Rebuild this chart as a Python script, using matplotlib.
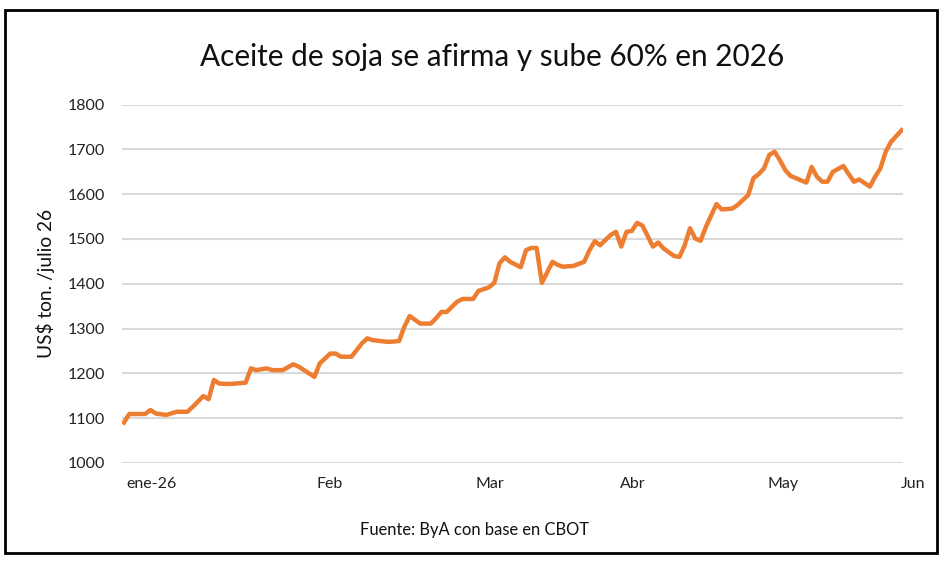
import matplotlib.pyplot as plt
from matplotlib.patches import Rectangle

#data (dias = days from first quote, precio = US$/ton julio 26)
dias = [0, 1, 4, 5, 6, 8, 10, 12, 13, 15, 16, 17, 18, 20, 23, 24, 25, 27, 28, 30,
        32, 33, 36, 37, 39, 40, 41, 43, 45, 46, 47, 50, 52, 53, 54, 56, 58, 59, 60, 61,
        63, 64, 66, 67, 69, 70, 71, 72, 73, 75, 76, 77, 78, 79, 81, 82, 83, 85, 87, 88,
        89, 90, 92, 93, 94, 95, 96, 97, 98, 100, 101, 102, 104, 105, 106, 107, 108, 109, 110, 112,
        113, 115, 116, 118, 119, 120, 121, 122, 123, 124, 125, 126, 127, 129, 130, 131, 132, 133, 134, 136,
        137, 138, 139, 141, 142, 143, 144, 145, 147]
precio = [1090, 1109, 1109, 1118, 1110, 1107, 1114, 1114, 1125, 1149, 1142, 1185, 1177, 1176, 1179, 1211, 1207, 1211, 1207, 1207,
          1220, 1215, 1192, 1222, 1244, 1244, 1237, 1237, 1267, 1278, 1274, 1270, 1272, 1304, 1328, 1311, 1311, 1323, 1337, 1337,
          1360, 1366, 1366, 1384, 1392, 1402, 1446, 1459, 1449, 1437, 1475, 1480, 1480, 1402, 1449, 1442, 1438, 1440, 1449, 1475,
          1495, 1486, 1509, 1516, 1483, 1516, 1518, 1536, 1530, 1483, 1492, 1479, 1462, 1460, 1486, 1524, 1501, 1496, 1527, 1578,
          1566, 1568, 1576, 1598, 1636, 1645, 1658, 1688, 1695, 1676, 1654, 1641, 1636, 1626, 1661, 1639, 1628, 1628, 1650, 1663,
          1645, 1628, 1633, 1617, 1639, 1658, 1695, 1717, 1743]

#month labels and where they sit on the day axis
meses = ['ene-26', 'Feb', 'Mar', 'Abr', 'May', 'Jun']
meses_pos = [5.3, 38.8, 69.2, 96.2, 124.6, 149.1]
yticks = [1000, 1100, 1200, 1300, 1400, 1500, 1600, 1700, 1800]

plt.rcParams['font.family'] = ['Lato', 'DejaVu Sans']

fig = plt.figure(figsize=(9.47, 5.63), dpi=100)
ax = fig.add_axes([0.1288, 0.178, 0.8247, 0.636])

#line
ax.plot(dias, precio, color='#ED7D31', linewidth=3.2, solid_joinstyle='round', zorder=3)

#axes styling
ax.set_ylim(1000, 1800)
ax.set_xlim(-0.38, 147.26)
ax.set_yticks(yticks)
ax.tick_params(axis='y', length=0, labelsize=11.5, pad=12, colors='#222222')
ax.set_xticks([])
ax.grid(axis='y', color='#D9D9D9', linewidth=1.5)
ax.set_axisbelow(True)
for s in ax.spines.values():
    s.set_visible(False)

#month labels under the plot (Jun falls outside the plot area)
for pos, lab in zip(meses_pos, meses):
    ax.text(pos, -0.06, lab, ha='center', va='center', fontsize=11.5, color='#222222',
            transform=ax.get_xaxis_transform(), clip_on=False)

ax.set_ylabel('US$ ton. /julio 26', fontsize=13.8, color='#111111', labelpad=9)

#title and source
fig.text(0.5195, 0.898, 'Aceite de soja se afirma y sube 60% en 2026', ha='center', va='center',
         fontsize=21.4, color='#111111')
fig.text(0.5015, 0.059, 'Fuente: ByA con base en CBOT', ha='center', va='center', fontsize=11.9, color='#111111')

#black frame around the chart
fig.patches.append(Rectangle((5 / 947, 1 - 553 / 563), 932 / 947, 543 / 563, transform=fig.transFigure,
                             fill=False, edgecolor='black', linewidth=2))

plt.savefig('out.png', dpi=100)
